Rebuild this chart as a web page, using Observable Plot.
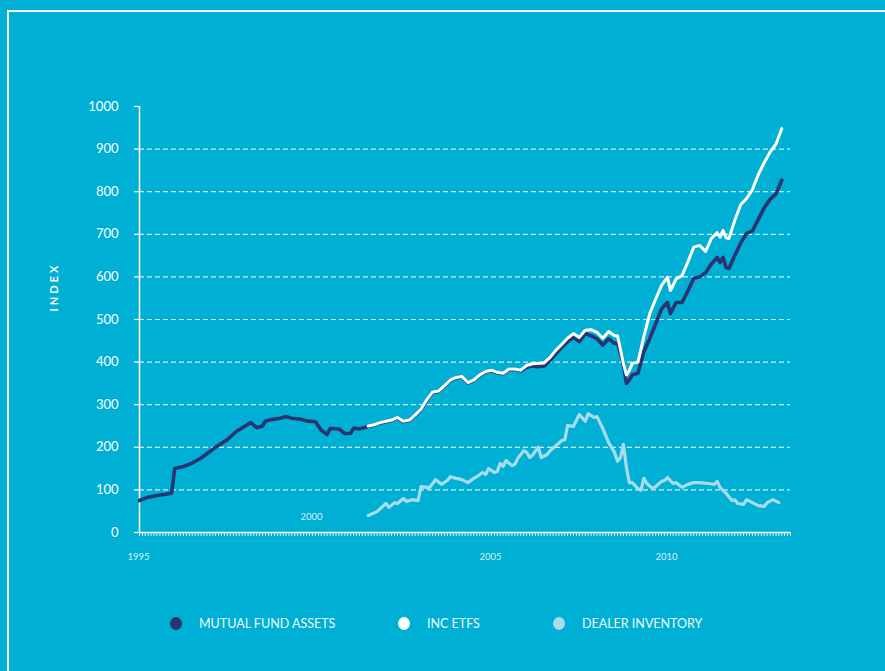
<!DOCTYPE html>
<html>
<head>
<meta charset="utf-8">
<script src="https://cdn.jsdelivr.net/npm/d3@7"></script>
<script src="https://cdn.jsdelivr.net/npm/@observablehq/plot@0.6"></script>
<style>
  html, body { margin: 0; padding: 0; background: #00AFD4; }
  #wrap { position: relative; width: 885px; height: 671px; overflow: hidden; background: #00AFD4; font-family: Lato, "Open Sans", sans-serif; }
  #frame { position: absolute; left: 7px; top: 10px; right: -10px; bottom: -10px; border-left: 2px solid #fff; border-top: 2px solid #fff; }
  #chart { position: absolute; left: 0; top: 0; }
  .leg { position: absolute; top: 616px; height: 14px; display: flex; align-items: center; color: #eef9fc; font-size: 12.5px; white-space: nowrap; }
  .dot { width: 12px; height: 13px; border-radius: 50%; margin-right: 17px; }
</style>
</head>
<body>
<div id="wrap">
  <div id="frame"></div>
  <div id="chart"></div>
  <div id="legend"></div>
</div>
<script>
// ---------- data ----------
const mfDates = ["1995-01","1995-04","1995-07","1995-10","1995-12","1996-01","1996-04","1996-07","1996-10","1997-01","1997-04","1997-07","1997-10","1998-01","1998-03","1998-05","1998-07","1998-08","1998-10","1999-01","1999-03","1999-05","1999-08","1999-10","2000-01","2000-03","2000-05","2000-06","2000-09","2000-11","2001-01","2001-02","2001-04","2001-06","2001-07","2001-09","2001-11","2002-01","2002-03","2002-05","2002-07","2002-09","2002-11","2003-01","2003-03","2003-05","2003-07","2003-09","2003-11","2004-01","2004-03","2004-05","2004-07","2004-09","2004-11","2005-01","2005-03","2005-05","2005-07","2005-09","2005-11","2006-01","2006-03","2006-05","2006-07","2006-09","2006-11","2007-01","2007-03","2007-05","2007-07","2007-09","2007-11","2008-01","2008-03","2008-05","2008-07","2008-08","2008-10","2008-11","2008-12","2009-01","2009-03","2009-05","2009-07","2009-09","2009-11","2010-01","2010-02","2010-04","2010-06","2010-08","2010-10","2010-12","2011-02","2011-04","2011-06","2011-07","2011-08","2011-09","2011-10","2011-12","2012-02","2012-04","2012-06","2012-08","2012-10","2012-12","2013-02","2013-04"];
const mfValues = [75,83,87,90,93,150,155,163,175,190,205,218,237,250,258,246,250,262,265,268,272,268,266,262,260,240,230,244,243,232,233,245,243,247,249,252,257,260,263,269,260,263,275,289,311,329,331,344,357,363,365,351,357,369,377,380,375,373,383,383,379,388,391,389,391,404,420,435,448,458,448,467,462,455,440,455,444,444,395,350,358,370,374,425,455,490,525,540,514,540,540,567,597,600,610,630,646,634,646,622,620,650,680,702,708,735,762,782,795,827];

const etfDates = ["2001-07","2001-09","2001-11","2002-01","2002-03","2002-05","2002-07","2002-09","2002-11","2003-01","2003-03","2003-05","2003-07","2003-09","2003-11","2004-01","2004-03","2004-05","2004-07","2004-09","2004-11","2005-01","2005-03","2005-05","2005-07","2005-09","2005-11","2006-01","2006-03","2006-05","2006-07","2006-09","2006-11","2007-01","2007-03","2007-05","2007-07","2007-09","2007-11","2008-01","2008-03","2008-05","2008-07","2008-08","2008-10","2008-11","2008-12","2009-01","2009-03","2009-05","2009-07","2009-09","2009-11","2010-01","2010-02","2010-04","2010-06","2010-08","2010-10","2010-12","2011-02","2011-04","2011-06","2011-07","2011-08","2011-09","2011-10","2011-12","2012-02","2012-04","2012-06","2012-08","2012-10","2012-12","2013-02","2013-04"];
const etfValues = [250,253,258,261,264,270,261,264,276,290,312,330,332,345,358,364,366,352,358,370,378,381,376,374,384,384,381,392,396,397,398,411,428,442,456,467,458,475,476,470,456,472,462,462,397,370,380,397,400,460,514,548,580,599,568,595,603,635,670,674,660,690,704,693,709,692,690,733,770,784,805,840,868,893,912,948];

const dealerDates = ["2001-07","2001-10","2002-01","2002-02","2002-04","2002-05","2002-07","2002-08","2002-10","2002-12","2003-01","2003-03","2003-04","2003-06","2003-08","2003-10","2003-11","2004-01","2004-03","2004-05","2004-07","2004-08","2004-10","2004-11","2004-12","2005-02","2005-03","2005-04","2005-05","2005-06","2005-08","2005-09","2005-10","2005-12","2006-01","2006-02","2006-03","2006-05","2006-06","2006-08","2006-09","2006-11","2007-01","2007-02","2007-03","2007-05","2007-07","2007-09","2007-10","2007-12","2008-01","2008-03","2008-05","2008-07","2008-08","2008-09","2008-10","2008-11","2008-12","2009-01","2009-03","2009-04","2009-05","2009-06","2009-08","2009-09","2009-11","2009-12","2010-01","2010-03","2010-04","2010-06","2010-08","2010-10","2010-12","2011-03","2011-05","2011-06","2011-07","2011-09","2011-11","2011-12","2012-01","2012-03","2012-04","2012-06","2012-08","2012-10","2012-11","2013-01","2013-03"];
const dealerValues = [40,49,68,59,70,68,80,73,77,75,108,106,106,124,113,122,131,127,124,117,127,131,141,136,150,141,143,162,155,169,157,160,174,192,188,176,181,200,176,183,192,204,216,218,251,249,277,261,279,270,272,244,211,188,167,176,207,153,117,117,103,99,127,115,103,108,120,122,129,115,117,106,113,117,117,115,113,120,106,92,75,77,68,66,77,70,63,61,70,77,70];

const yTicks = [0,100,200,300,400,500,600,700,800,900,1000];
const gridValues = [100,200,300,400,500,600,700,800,900];
const xLabelsBelow = [1995, 2005, 2010];
const xLabelsAbove = [2000];
const seriesNames = ["MUTUAL FUND ASSETS", "INC ETFS", "DEALER INVENTORY"];
const seriesColors = ["#2B3473", "#FFFFFF", "#A8DCEA"];

// ---------- build ----------
const parse = d3.utcParse("%Y-%m");
const toRows = (dates, values) => dates.map((d, i) => ({date: parse(d), value: values[i]}));
const mf = toRows(mfDates, mfValues);
const etf = toRows(etfDates, etfValues);
const dealer = toRows(dealerDates, dealerValues);
const x0 = parse("1995-01"), x1 = parse("2013-07");
const monthTicks = d3.utcMonth.range(x0, d3.utcDay.offset(x1, 1));
const yearDate = y => new Date(Date.UTC(y, 0, 1));

const chart = Plot.plot({
  width: 885,
  height: 590,
  marginLeft: 139,
  marginRight: 95,
  marginTop: 106,
  marginBottom: 58,
  style: {background: "transparent", color: "#fff", fontFamily: "Lato, 'Open Sans', sans-serif", overflow: "visible"},
  x: {type: "utc", domain: [x0, x1]},
  y: {domain: [0, 1000]},
  marks: [
    Plot.ruleY(gridValues, {stroke: "#fff", strokeOpacity: 0.8, strokeDasharray: "5,3", strokeWidth: 1.2}),
    Plot.axisY({ticks: yTicks, tickSize: 5, tickPadding: 16, fontSize: 13, label: null, tickFormat: d => `${d}`, stroke: "#fff", strokeWidth: 1.2}),
    Plot.axisX({ticks: monthTicks, tickSize: 4, tickFormat: () => "", label: null, stroke: "#fff", strokeOpacity: 0.85}),
    Plot.ruleX([x0], {y1: 0, y2: 1000, stroke: "#fff", strokeWidth: 1.5}),
    Plot.ruleY([0], {stroke: "#fff", strokeWidth: 1.5}),
    Plot.line(mf, {x: "date", y: "value", stroke: seriesColors[0], strokeWidth: 3.6}),
    Plot.line(dealer, {x: "date", y: "value", stroke: seriesColors[2], strokeWidth: 3.2}),
    Plot.line(etf, {x: "date", y: "value", stroke: seriesColors[1], strokeWidth: 3}),
    Plot.text(xLabelsBelow, {x: yearDate, text: d => `${d}`, frameAnchor: "bottom", dy: 27, dx: -1, fontSize: 9.5, fill: "#d8f1f7"}),
    Plot.text(xLabelsAbove, {x: yearDate, text: d => `${d}`, frameAnchor: "bottom", dy: -13, dx: -4, fontSize: 9.5, fill: "#d8f1f7"}),
    Plot.text(["INDEX"], {text: d => d, frameAnchor: "left", dx: -85, dy: -8, rotate: -90, fontSize: 11, fontWeight: "bold", fill: "#fff"})
  ]
});
d3.select(chart).selectAll("text").filter(function() { return this.textContent === "INDEX"; }).attr("letter-spacing", "3px");
document.getElementById("chart").appendChild(chart);

// ---------- legend ----------
const legendLeft = [170, 398, 553];
const legend = document.getElementById("legend");
seriesNames.forEach((name, i) => {
  const item = document.createElement("div");
  item.className = "leg";
  item.style.left = legendLeft[i] + "px";
  const dot = document.createElement("span");
  dot.className = "dot";
  dot.style.background = seriesColors[i];
  const label = document.createElement("span");
  label.textContent = name;
  item.appendChild(dot);
  item.appendChild(label);
  legend.appendChild(item);
});
</script>
</body>
</html>
